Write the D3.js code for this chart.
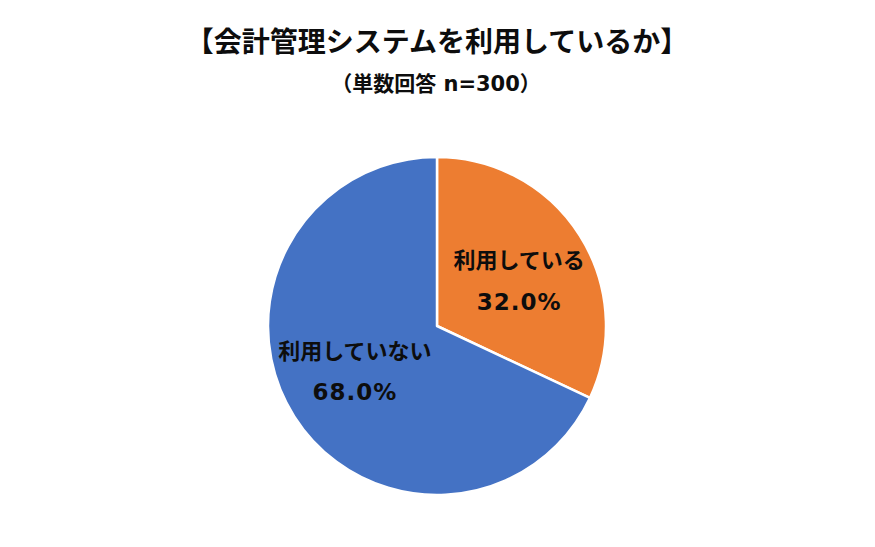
<!DOCTYPE html>
<html>
<head>
<meta charset="utf-8">
<script src="https://cdn.jsdelivr.net/npm/d3@7"></script>
<style>
  body { margin: 0; background: #fff; }
  text { font-family: "DejaVu Sans", "Noto Sans CJK JP", sans-serif; font-weight: bold; fill: #0d0d0d; }
</style>
</head>
<body>
<div id="chart"></div>
<script>
// chart values
const categories = ["利用している", "利用していない"];
const values = [32.0, 68.0];
const colors = ["#ED7D31", "#4472C4"];
const titleText = "【会計管理システムを利用しているか】";
const subtitleText = "（単数回答 n=300）";

const width = 875;
const height = 547;
const cx = 437;
const cy = 326;
const radius = 169;

const svg = d3.select("#chart")
  .append("svg")
    .attr("width", width)
    .attr("height", height);

// titles
svg.append("text")
  .attr("x", cx)
  .attr("y", 52)
  .attr("text-anchor", "middle")
  .attr("font-size", "28px")
  .text(titleText);

svg.append("text")
  .attr("x", cx - 1)
  .attr("y", 91)
  .attr("text-anchor", "middle")
  .attr("font-size", "21px")
  .text(subtitleText);

// pie
const pie = d3.pie().sort(null).value(d => d.value);
const arcs = pie(categories.map((c, i) => ({name: c, value: values[i], color: colors[i]})));

const arc = d3.arc().innerRadius(0).outerRadius(radius);

const g = svg.append("g").attr("transform", `translate(${cx}, ${cy})`);

g.selectAll("path")
  .data(arcs)
  .join("path")
    .attr("d", arc)
    .attr("fill", d => d.data.color)
    .attr("stroke", "#fff")
    .attr("stroke-width", 2.5)
    .attr("stroke-linejoin", "round");

// labels, placed along the mid angle of each slice
const labelR = radius * 0.555;
const labels = g.selectAll(".label")
  .data(arcs)
  .join("g")
    .attr("class", "label")
    .attr("transform", d => {
      const a = (d.startAngle + d.endAngle) / 2 + (d.index === 0 ? 0.06 : 0.06);
      return `translate(${Math.sin(a) * labelR}, ${-Math.cos(a) * labelR})`;
    });

labels.append("text")
  .attr("text-anchor", "middle")
  .attr("dominant-baseline", "central")
  .attr("y", -20)
  .attr("font-size", "22px")
  .text(d => d.data.name);

labels.append("text")
  .attr("text-anchor", "middle")
  .attr("dominant-baseline", "central")
  .attr("y", 21)
  .attr("font-size", "23px")
  .attr("letter-spacing", "1px")
  .text(d => d3.format(".1f")(d.data.value) + "%");
</script>
</body>
</html>
